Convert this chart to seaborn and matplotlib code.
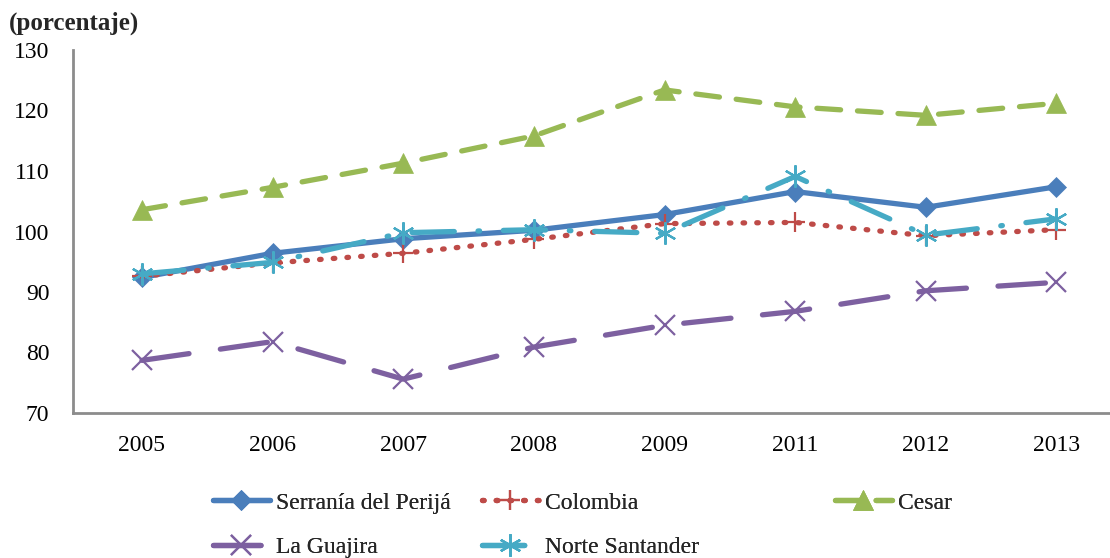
import pandas as pd
import matplotlib
matplotlib.use("Agg")
import matplotlib.pyplot as plt
import seaborn as sns

sns.set_theme(style="white")
plt.rcParams["font.family"] = ["Liberation Serif", "DejaVu Serif"]

ANIOS = ["2005", "2006", "2007", "2008", "2009", "2011", "2012", "2013"]
SERRANIA = [92.4, 96.4, 98.8, 100.2, 102.8, 106.6, 104.0, 107.4]
COLOMBIA = [92.6, 94.8, 96.4, 98.7, 101.3, 101.5, 99.3, 100.3]
CESAR = [103.6, 107.3, 111.3, 115.8, 123.4, 120.6, 119.2, 121.2]
LA_GUAJIRA = [78.7, 81.8, 75.6, 80.9, 84.5, 86.8, 90.2, 91.6]
NORTE_SANTANDER = [93.0, 94.9, 99.8, 100.3, 99.7, 109.1, 99.4, 102.1]

# estilo de cada serie: (nombre, valores, color, marcador, tamaño, guiones)
SERIES = [
    ("Serranía del Perijá", SERRANIA, "#4A7EBB", "D", 10, "-"),
    ("Colombia", COLOMBIA, "#BE4B48", "+", 15, (0, (0.3, 2.3))),
    ("Cesar", CESAR, "#98B954", "^", 14, (0, (4.5, 3.2))),
    ("La Guajira", LA_GUAJIRA, "#7D60A0", "x", 14, (0, (9, 6))),
    ("Norte Santander", NORTE_SANTANDER, "#46AAC5", (6, 2, 0), 16, (0, (8, 4.5, 0.3, 4.5))),
]

fig, ax = plt.subplots(figsize=(11.1, 5.58), dpi=100)
fig.subplots_adjust(left=73 / 1110, right=1.0, top=1 - 50 / 558, bottom=1 - 413 / 558)

handles = {}
for nombre, valores, color, marcador, tam, guion in SERIES:
    df = pd.DataFrame({"anio": ANIOS, "valor": valores})
    sns.lineplot(data=df, x="anio", y="valor", ax=ax, color=color, linewidth=3.8,
                 sort=False, label=nombre)
    linea = ax.lines[-1]
    linea.set_linestyle(guion)
    linea.set_dash_capstyle("round")
    linea.set_marker(marcador)
    linea.set_markersize(tam)
    linea.set_markerfacecolor(color)
    linea.set_markeredgecolor(color)
    linea.set_markeredgewidth(1.6 if nombre in ("Colombia", "La Guajira", "Norte Santander") else 0.5)
    handles[nombre] = linea

ax.set_ylim(70, 130)
ax.set_xlim(-0.528, 7.41)
ax.set_yticks(range(70, 131, 10))
ax.set_xlabel("")
ax.set_ylabel("")
ax.tick_params(axis="both", length=0, labelsize=17, colors="black")
ax.tick_params(axis="y", pad=17)
ax.tick_params(axis="x", pad=16)
for lado in ["top", "right"]:
    ax.spines[lado].set_visible(False)
for lado in ["left", "bottom"]:
    ax.spines[lado].set_color("#8C8C8C")
    ax.spines[lado].set_linewidth(2)

fig.text(0.008, 0.958, "(porcentaje)", fontsize=18, fontweight="bold", va="center")

ax.get_legend().remove()
columnas = [
    (["Serranía del Perijá", "La Guajira"], 213),
    (["Colombia", "Norte Santander"], 482),
    (["Cesar"], 835),
]
for nombres, x0 in columnas:
    leyenda = fig.legend([handles[n] for n in nombres], nombres, loc="upper left",
                         bbox_to_anchor=(x0 / 1110, 1 - 492 / 558), frameon=False,
                         fontsize=17, handlelength=2.4, handletextpad=0.25,
                         labelspacing=0.97, borderpad=0, borderaxespad=0)
    fig.add_artist(leyenda)

fig.savefig("out.png", dpi=100)
